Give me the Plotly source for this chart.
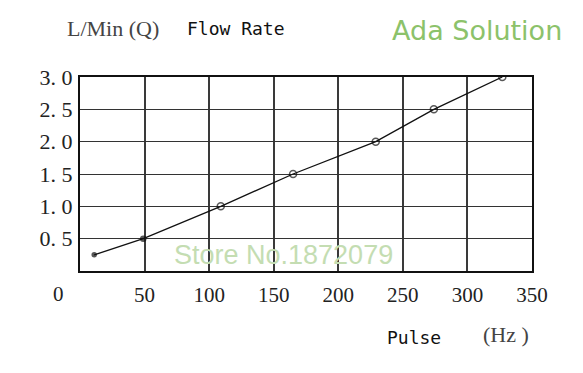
import plotly.graph_objects as go

# ---- data ----
pulse_hz = [11, 49, 109, 165, 229, 274, 327]
flow_lpm = [0.25, 0.5, 1.0, 1.5, 2.0, 2.5, 3.0]
marker_symbols = ["circle", "circle", "circle-open", "circle-open", "circle-open", "circle-open", "circle-open"]
marker_sizes = [4, 5, 7, 7, 7, 7, 7]

x_tick_vals = [50, 100, 150, 200, 250, 300, 350]
x_tick_text = ["50", "100", "150", "200", "250", "300", "350"]
y_tick_vals = [0.5, 1.0, 1.5, 2.0, 2.5, 3.0]
y_tick_text = ["0. 5", "1. 0", "1. 5", "2. 0", "2. 5", "3. 0"]

serif = "Liberation Serif, DejaVu Serif, serif"
mono = "DejaVu Sans Mono, Liberation Mono, monospace"

# page body adds an 8px margin; plot area in the window spans x 80..532, y 77..271
L, T, PW, PH = 72, 69, 452, 194
W, H = 575, 365

fig = go.Figure()
fig.add_trace(go.Scatter(
    x=pulse_hz, y=flow_lpm, mode="lines+markers",
    line=dict(color="#111111", width=1.3),
    marker=dict(symbol=marker_symbols, size=marker_sizes, color="#111111",
                line=dict(color="#111111", width=1.5)),
    showlegend=False, hoverinfo="skip",
))

fig.update_layout(
    width=W, height=H,
    margin=dict(l=L, r=W - L - PW, t=T, b=H - T - PH),
    paper_bgcolor="white", plot_bgcolor="white",
    xaxis=dict(range=[0, 350], tickvals=x_tick_vals, ticktext=x_tick_text,
               showgrid=True, gridcolor="#3a3a3a", gridwidth=1.7,
               showline=True, linecolor="#111111", linewidth=2.2, mirror=True,
               zeroline=False, ticks="", ticklabelstandoff=4, automargin=False,
               tickfont=dict(family=serif, size=21, color="#222222")),
    yaxis=dict(range=[0, 3], tickvals=y_tick_vals, ticktext=y_tick_text,
               showgrid=True, gridcolor="#333333", gridwidth=1.4,
               showline=True, linecolor="#111111", linewidth=2.2, mirror=True,
               zeroline=False, ticks="", ticklabelstandoff=1, automargin=False,
               tickfont=dict(family=serif, size=22, color="#222222")),
)

# (text, left-edge px in window, vertical-centre px in window, font)
ann = [
    ("L/Min (Q)", 65, 28, dict(family=serif, size=22, color="#444444")),
    ("Flow Rate", 185, 28, dict(family=mono, size=18, color="#111111")),
    ("Ada Solution", 390, 31, dict(family="DejaVu Sans, sans-serif", size=27, color="#8cc26a")),
    ("Store No.1872079", 172, 255, dict(family="Liberation Sans, Arial, sans-serif", size=27, color="#c4ddb2")),
    ("0", 51, 294, dict(family=serif, size=21, color="#222222")),
    ("Pulse", 385, 337, dict(family=mono, size=18, color="#111111")),
    ("(Hz )", 481, 334, dict(family=serif, size=22, color="#444444")),
]
for text, px, py, font in ann:
    fig.add_annotation(
        text=text, showarrow=False,
        xref="paper", yref="paper",
        x=(px - 80) / PW, y=(271 - py) / PH,
        xanchor="left", yanchor="middle",
        font=font,
    )

fig.write_html("out.html")
